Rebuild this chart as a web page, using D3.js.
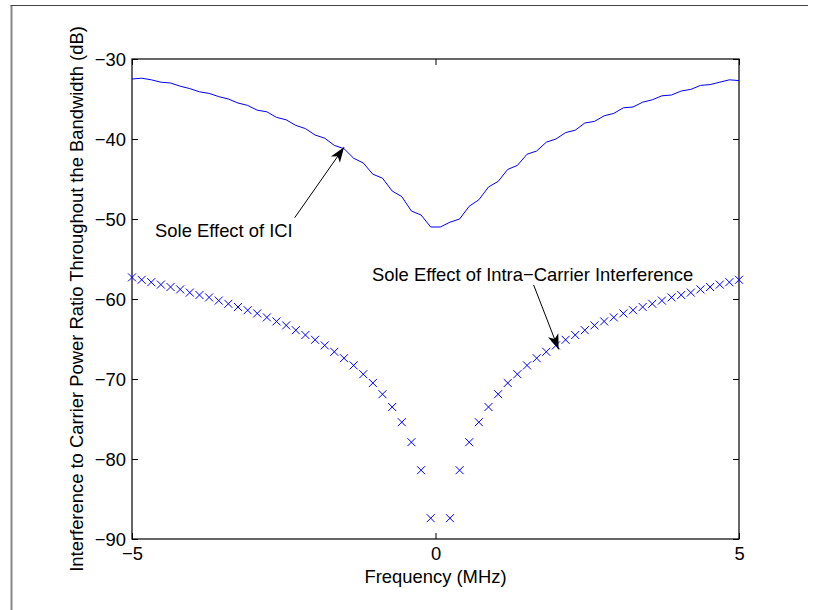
<!doctype html>
<html>

<head>
    <meta charset="utf-8">
    <title>Interference ratio</title>
    <style>
        body { margin: 0; background: #fff; }
        svg text { font-family: "Liberation Sans", Arial, sans-serif; font-size: 18.4px; fill: #000; }
    </style>
    <script src="https://cdn.jsdelivr.net/npm/d3@7"></script>
</head>

<body>
    <svg width="821" height="610"></svg>
    <script>
    // frequency grid (MHz)
    var freq = [-5.000, -4.841, -4.683, -4.524, -4.365, -4.206, -4.048, -3.889, -3.730, -3.571,
        -3.413, -3.254, -3.095, -2.937, -2.778, -2.619, -2.460, -2.302, -2.143, -1.984,
        -1.825, -1.667, -1.508, -1.349, -1.190, -1.032, -0.873, -0.714, -0.556, -0.397,
        -0.238, -0.079, 0.079, 0.238, 0.397, 0.556, 0.714, 0.873, 1.032, 1.190,
        1.349, 1.508, 1.667, 1.825, 1.984, 2.143, 2.302, 2.460, 2.619, 2.778,
        2.937, 3.095, 3.254, 3.413, 3.571, 3.730, 3.889, 4.048, 4.206, 4.365,
        4.524, 4.683, 4.841, 5.000];

    // sole effect of ICI (dB), drawn as a line
    var iciDb = [-32.5, -32.4, -32.6, -32.9, -33.0, -33.4, -33.7, -34.1, -34.3, -34.7,
        -35.0, -35.5, -35.8, -36.4, -36.6, -37.3, -37.6, -38.3, -38.7, -39.5,
        -39.9, -40.8, -41.2, -42.4, -43.0, -44.4, -44.9, -46.5, -47.2, -49.0,
        -49.5, -51.0, -51.0, -50.4, -50.0, -48.4, -47.6, -46.0, -45.3, -43.8,
        -43.3, -41.9, -41.5, -40.4, -40.0, -39.2, -38.9, -38.0, -37.8, -37.1,
        -36.8, -36.1, -36.0, -35.4, -35.1, -34.6, -34.5, -34.0, -33.8, -33.3,
        -33.2, -32.9, -32.6, -32.7];

    // sole effect of intra-carrier interference (dB), drawn as x markers (null = not plotted)
    var intraDb = [-57.3, -57.6, -57.9, -58.2, -58.5, -58.8, -59.2, -59.5, -59.8, -60.2,
        -60.6, -61.0, -61.4, -61.8, -62.3, -62.8, -63.3, -63.9, -64.5, -65.1,
        -65.8, -66.6, -67.4, -68.3, -69.4, -70.5, -71.9, -73.5, -75.4, -77.9,
        -81.4, -87.4, null, -87.4, -81.4, -77.9, -75.4, -73.5, -71.9, -70.5,
        -69.4, -68.3, -67.4, -66.6, -65.8, -65.1, -64.5, -63.9, -63.3, -62.8,
        -62.3, -61.8, -61.4, -61.0, -60.6, -60.2, -59.8, -59.5, -59.2, -58.8,
        -58.5, -58.2, -57.9, -57.6];

    var xTicks = [-5, 0, 5];
    var yTicks = [-90, -80, -70, -60, -50, -40, -30];

    // annotation labels with arrow tail / tip, in data units
    var notes = [
        { text: "Sole Effect of ICI", tx: -4.62, ty: -52.3, x0: -2.32, y0: -49.84, x1: -1.507, y1: -41.04 },
        { text: "Sole Effect of Intra\u2212Carrier Interference", tx: -1.046, ty: -57.8, x0: 1.617, y0: -58.25, x1: 2.028, y1: -66.29 }
    ];

    var svg = d3.select("svg"),
        margin = { top: 59, left: 132 },
        width = 607,
        height = 480,
        g = svg.append("g").attr("transform", "translate(" + margin.left + "," + margin.top + ")");

    // outer frame of the page crop
    svg.append("path").attr("d", "M11.5,610V5.5").attr("stroke", "#888").attr("stroke-width", 2).attr("fill", "none");
    svg.append("path").attr("d", "M10.5,5.5H808").attr("stroke", "#444").attr("stroke-width", 1.2).attr("fill", "none");

    var x = d3.scaleLinear().domain([-5, 5]).range([0, width]);
    var y = d3.scaleLinear().domain([-90, -30]).range([height, 0]);
    var fmt = d3.format("d");

    function styleAxis(sel) {
        sel.select(".domain").remove();
        sel.selectAll(".tick line").attr("stroke", "#000").attr("stroke-width", 1);
        sel.selectAll(".tick text").style("font-size", "18.4px").style("font-family", "'Liberation Sans', Arial, sans-serif");
    }

    g.append("g")
        .attr("transform", "translate(0," + height + ")")
        .call(d3.axisBottom(x).tickValues(xTicks).tickFormat(fmt).tickSizeInner(-6).tickSizeOuter(0).tickPadding(8))
        .call(styleAxis);

    g.append("g")
        .call(d3.axisTop(x).tickValues(xTicks).tickFormat("").tickSizeInner(-6).tickSizeOuter(0))
        .call(styleAxis);

    g.append("g")
        .call(d3.axisLeft(y).tickValues(yTicks).tickFormat(fmt).tickSizeInner(-6).tickSizeOuter(0).tickPadding(6))
        .call(styleAxis)
        .selectAll(".tick text").attr("dy", "0.36em");

    g.append("g")
        .attr("transform", "translate(" + width + ",0)")
        .call(d3.axisRight(y).tickValues(yTicks).tickFormat("").tickSizeInner(-6).tickSizeOuter(0))
        .call(styleAxis);

    g.append("rect")
        .attr("width", width).attr("height", height)
        .attr("fill", "none").attr("stroke", "#000").attr("stroke-width", 1.2);

    // ICI line
    var pts = freq.map(function(f, i) { return [f, iciDb[i]]; });
    g.append("path")
        .datum(pts)
        .attr("fill", "none")
        .attr("stroke", "#0000ff")
        .attr("stroke-width", 1)
        .attr("d", d3.line().x(function(d) { return x(d[0]); }).y(function(d) { return y(d[1]); }));

    // intra-carrier markers
    var mk = freq.map(function(f, i) { return [f, intraDb[i]]; }).filter(function(d) { return d[1] != null; });
    g.append("g").selectAll("path")
        .data(mk)
        .enter().append("path")
        .attr("transform", function(d) { return "translate(" + x(d[0]) + "," + y(d[1]) + ")"; })
        .attr("d", "M-4,-4L4,4M-4,4L4,-4")
        .attr("stroke", "#0000ff")
        .attr("stroke-width", 1);

    // annotations
    var note = g.append("g").selectAll("g").data(notes).enter().append("g");
    note.append("text")
        .attr("x", function(d) { return x(d.tx); })
        .attr("y", function(d) { return y(d.ty); })
        .text(function(d) { return d.text; });
    note.append("line")
        .attr("x1", function(d) { return x(d.x0); })
        .attr("y1", function(d) { return y(d.y0); })
        .attr("x2", function(d) { return x(d.x1); })
        .attr("y2", function(d) { return y(d.y1); })
        .attr("stroke", "#000").attr("stroke-width", 1);
    note.append("path")
        .attr("transform", function(d) {
            var a = Math.atan2(y(d.y1) - y(d.y0), x(d.x1) - x(d.x0)) * 180 / Math.PI;
            return "translate(" + x(d.x1) + "," + y(d.y1) + ") rotate(" + a + ")";
        })
        .attr("d", "M0,0L-15,-5.5L-11,0L-15,5.5Z")
        .attr("fill", "#000");

    // axis labels
    svg.append("text")
        .attr("x", margin.left + width / 2)
        .attr("y", 583)
        .attr("text-anchor", "middle")
        .text("Frequency (MHz)");

    svg.append("text")
        .attr("transform", "translate(83," + (margin.top + height / 2) + ") rotate(-90)")
        .attr("text-anchor", "middle")
        .text("Interference to Carrier Power Ratio Throughout the Bandwidth (dB)");
    </script>
</body>

</html>
